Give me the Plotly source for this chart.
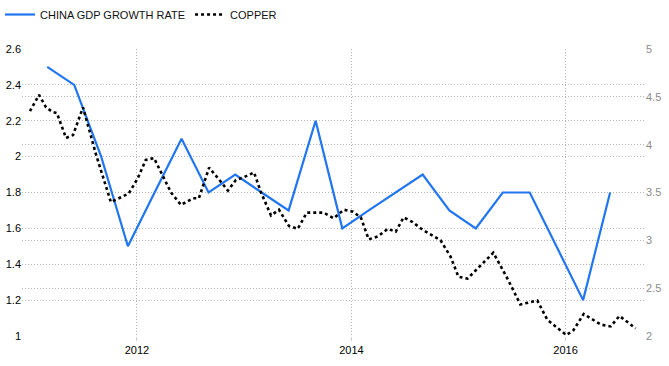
import plotly.graph_objects as go

gdp_dates = ["2011-03-01", "2011-06-01", "2011-09-01", "2011-12-01",
             "2012-03-01", "2012-06-01", "2012-09-01", "2012-12-01",
             "2013-03-01", "2013-06-01", "2013-09-01", "2013-12-01",
             "2014-03-01", "2014-06-01", "2014-09-01", "2014-12-01",
             "2015-03-01", "2015-06-01", "2015-09-01", "2015-12-01",
             "2016-03-01", "2016-06-01"]
gdp_values = [2.5, 2.4, 2.0, 1.5,
              1.8, 2.1, 1.8, 1.9,
              1.8, 1.7, 2.2, 1.6,
              1.7, 1.8, 1.9, 1.7,
              1.6, 1.8, 1.8, 1.5,
              1.2, 1.8]

copper_dates = ["2011-01-01", "2011-02-01", "2011-02-25", "2011-03-20", "2011-04-03",
                "2011-05-04", "2011-05-28", "2011-06-14", "2011-07-01", "2011-08-14",
                "2011-10-04", "2011-11-07", "2011-12-04", "2012-01-04", "2012-01-31",
                "2012-02-28", "2012-03-22", "2012-04-26", "2012-05-30", "2012-07-10",
                "2012-07-30", "2012-09-03", "2012-10-03", "2012-11-06", "2012-12-03",
                "2012-12-31", "2013-02-03", "2013-02-27", "2013-04-02", "2013-04-29",
                "2013-06-02", "2013-07-02", "2013-08-02", "2013-09-28", "2013-11-02",
                "2013-12-06", "2014-01-06", "2014-02-02", "2014-03-01", "2014-04-01",
                "2014-05-05", "2014-06-01", "2014-06-28", "2014-07-29", "2014-09-01",
                "2014-11-01", "2014-12-05", "2015-01-01", "2015-02-01", "2015-03-10",
                "2015-04-30", "2015-06-17", "2015-07-31", "2015-09-27", "2015-10-31",
                "2015-12-14", "2016-01-04", "2016-01-28", "2016-03-03", "2016-04-30",
                "2016-06-03", "2016-07-03", "2016-08-27"]
copper_values = [4.35, 4.52, 4.39, 4.34, 4.33,
                 4.07, 4.10, 4.24, 4.39, 3.90,
                 3.40, 3.45, 3.49, 3.65, 3.84,
                 3.86, 3.72, 3.50, 3.37, 3.44,
                 3.44, 3.76, 3.65, 3.52, 3.63,
                 3.66, 3.71, 3.50, 3.26, 3.32,
                 3.15, 3.12, 3.29, 3.29, 3.23,
                 3.32, 3.30, 3.24, 3.01, 3.04,
                 3.12, 3.09, 3.24, 3.19, 3.11,
                 3.00, 2.83, 2.62, 2.60, 2.71,
                 2.87, 2.60, 2.33, 2.37, 2.17,
                 2.06, 2.01, 2.06, 2.23, 2.12,
                 2.10, 2.21, 2.08]

FONT = "Liberation Sans"
GRID = "#b4b4b4"
DASH = "1px,2px"

fig = go.Figure()
fig.add_trace(go.Scatter(x=gdp_dates, y=gdp_values, name="CHINA GDP GROWTH RATE",
                         mode="lines", line=dict(color="#2176f0", width=2.2), yaxis="y"))
fig.add_trace(go.Scatter(x=copper_dates, y=copper_values, name="COPPER",
                         mode="lines", line=dict(color="#000000", width=2.6, dash="dot"),
                         yaxis="y2"))

fig.update_layout(
    width=669, height=366,
    margin=dict(l=22, r=24, t=49, b=30),
    paper_bgcolor="white", plot_bgcolor="white",
    font=dict(family=FONT, size=11, color="#111"),
    showlegend=True,
    legend=dict(orientation="h", xref="container", x=-36 / 669, xanchor="left",
                yref="container", y=1.0, yanchor="top",
                font=dict(family=FONT, size=11, color="#111"),
                bgcolor="rgba(0,0,0,0)", traceorder="normal"),
    xaxis=dict(type="date", range=["2010-12-05", "2016-09-28"],
               tick0="2012-01-01", dtick="M24", tickformat="%Y",
               showgrid=True, gridcolor=GRID, griddash=DASH, gridwidth=1,
               zeroline=False, showline=False, automargin=False,
               ticks="outside", ticklen=4, tickcolor="#cccccc",
               tickfont=dict(family=FONT, size=11, color="#000")),
    yaxis=dict(range=[1, 2.6], dtick=0.2, tick0=1, showgrid=True, gridcolor=GRID,
               griddash=DASH, gridwidth=1, zeroline=False, showline=False,
               automargin=False,
               tickfont=dict(family=FONT, size=11, color="#000")),
    yaxis2=dict(range=[2, 5], dtick=0.5, tick0=2, overlaying="y", side="right",
                showgrid=True, gridcolor=GRID, griddash=DASH, gridwidth=1,
                zeroline=False, showline=False, automargin=False,
                tickfont=dict(family=FONT, size=11, color="#8c8c8c")),
)

fig.write_html("out.html")
